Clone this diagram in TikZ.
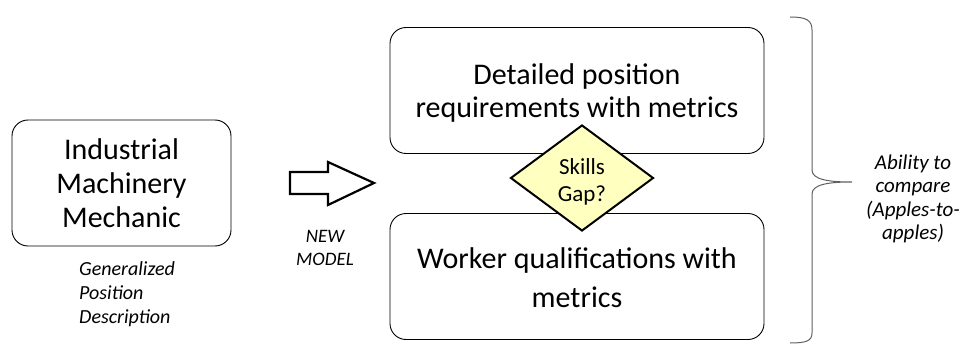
\documentclass[tikz,border=0pt]{standalone}
\usepackage{fontspec}
\setmainfont{Carlito}
\usetikzlibrary{shapes.geometric}
\definecolor{gapfill}{HTML}{FFFFC0}
\definecolor{bracegray}{HTML}{606060}
\tikzset{
  rbox/.style={draw=black, line width=0.9pt, rounded corners=16pt, inner sep=0pt},
  txt/.style={align=center, inner sep=0pt},
  note/.style={align=left, inner sep=0pt, font=\fontsize{20}{24}\selectfont\itshape},
}
\begin{document}
\begin{tikzpicture}[x=1pt,y=-1pt]
\useasboundingbox (0,0) rectangle (964,350);
% left box
\node[rbox, txt, font=\fontsize{30}{34}\selectfont, minimum width=219pt, minimum height=126pt] (ind) at (121.5,183) {Industrial\\Machinery\\Mechanic};
\node[note, anchor=north west] (gen) at (79,261) {Generalized\\Position\\Description};
% block arrow
\draw[line width=2.2pt, line join=miter] (290,172) -- (328,172) -- (328,162) -- (374,183) -- (328,205) -- (328,194) -- (290,194) -- cycle;
\node[txt, font=\fontsize{19}{23}\selectfont\itshape] (nm) at (325,248) {NEW\\MODEL};
% right boxes
\node[rbox, minimum width=374pt, minimum height=126pt] (top) at (577,90.5) {};
\node[txt, font=\fontsize{30}{33}\selectfont] (toptxt) at (577,93) {Detailed position\\requirements with metrics};
\node[rbox, minimum width=374pt, minimum height=126pt] (bot) at (577,276.5) {};
\node[txt, font=\fontsize{30}{39}\selectfont] (bottxt) at (577,277.5) {Worker qualifications with\\metrics};
% diamond
\node[draw=black, line width=2pt, fill=gapfill, diamond, minimum width=143pt, minimum height=106pt, inner sep=0pt] (gap) at (582,178) {};
\node[txt, font=\fontsize{23}{27}\selectfont] (gaptxt) at (582,182) {Skills\\Gap?};
% brace
\draw[bracegray, line width=1pt] (790,17) .. controls (806,17) and (812,20) .. (812,30)
  -- (812,170) .. controls (812,180) and (830,182) .. (852,182)
  .. controls (830,182) and (812,184) .. (812,194)
  -- (812,333) .. controls (812,341) and (806,343) .. (790,343);
\node[txt, font=\fontsize{21}{23.5}\selectfont\itshape] (abil) at (913,199) {Ability to\\compare\\(Apples-to-\\apples)};
\end{tikzpicture}
\end{document}
